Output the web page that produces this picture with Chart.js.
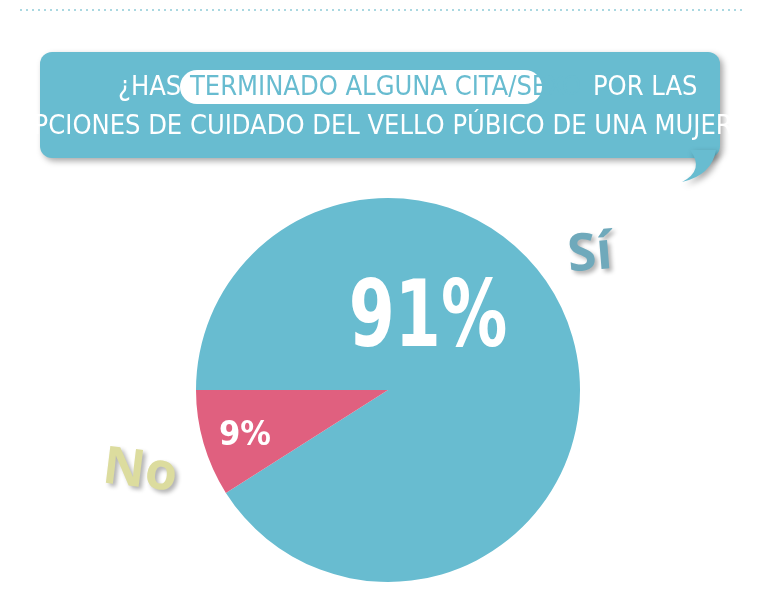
<!DOCTYPE html>
<html>
<head>
<meta charset="utf-8">
<script src="https://cdn.jsdelivr.net/npm/chart.js@4"></script>
<style>
  html, body { margin: 0; padding: 0; background: #fff; }
  #wrap { width: 757px; height: 595px; position: relative; }
</style>
</head>
<body>
<div id="wrap"><canvas id="c" width="757" height="595"></canvas></div>
<script>
const labels = ["Sí", "No"];
const values = [91, 9];
const colors = ["#68bcd0", "#e0607f"];
const titleLines = ["¿HAS TERMINADO ALGUNA CITA/SEXO POR LAS", "OPCIONES DE CUIDADO DEL VELLO PÚBICO DE UNA MUJER?"];

const decor = {
    id: "decor",
    beforeDraw(chart) {
        const ctx = chart.ctx;
        ctx.save();
        // dotted line
        ctx.strokeStyle = "#8fcbd8";
        ctx.lineWidth = 1.5;
        ctx.setLineDash([2, 4]);
        ctx.beginPath();
        ctx.moveTo(20, 10);
        ctx.lineTo(745, 10);
        ctx.stroke();
        ctx.setLineDash([]);
        // speech box
        ctx.shadowColor = "rgba(0,0,0,0.35)";
        ctx.shadowBlur = 6;
        ctx.shadowOffsetX = 3;
        ctx.shadowOffsetY = 3;
        ctx.fillStyle = "#68bcd0";
        ctx.beginPath();
        ctx.roundRect(40, 52, 680, 106, 12);
        ctx.fill();
        ctx.beginPath();
        ctx.moveTo(690, 150);
        ctx.quadraticCurveTo(705, 170, 682, 182);
        ctx.quadraticCurveTo(712, 175, 716, 150);
        ctx.fill();
        ctx.shadowColor = "transparent";
        // highlight oval
        ctx.fillStyle = "#fff";
        ctx.beginPath();
        ctx.roundRect(180, 70, 362, 34, 17);
        ctx.fill();
        ctx.font = "27px 'DejaVu Sans Condensed', 'DejaVu Sans'";
        ctx.textBaseline = "middle";
        ctx.textAlign = "left";
        const pre = "¿HAS ", mid = "TERMINADO ALGUNA CITA/SEXO", post = " POR LAS";
        ctx.fillStyle = "#fff";
        ctx.fillText(pre, 118, 88);
        ctx.fillStyle = "#68bcd0";
        ctx.fillText(mid, 190, 88);
        ctx.fillStyle = "#fff";
        ctx.fillText(post, 190 + ctx.measureText(mid).width + 4, 88);
        ctx.textAlign = "center";
        ctx.fillText(titleLines[1], 380, 127);
        ctx.restore();
    },
    afterDraw(chart) {
        const ctx = chart.ctx;
        const arc = chart.getDatasetMeta(0).data[0];
        const cx = arc.x, cy = arc.y;
        ctx.save();
        ctx.textAlign = "center";
        ctx.textBaseline = "middle";
        ctx.fillStyle = "#fff";
        ctx.font = "bold 92px 'DejaVu Sans Condensed', 'DejaVu Sans'";
        ctx.save();
        ctx.translate(cx + 40, cy - 68);
        ctx.scale(0.8, 1);
        ctx.fillText(values[0] + "%", 0, 0);
        ctx.restore();
        ctx.font = "bold 34px 'DejaVu Sans Condensed', 'DejaVu Sans'";
        ctx.fillText(values[1] + "%", cx - 143, cy + 46);
        // Sí / No
        ctx.shadowColor = "rgba(0,0,0,0.3)";
        ctx.shadowBlur = 4;
        ctx.shadowOffsetX = 3;
        ctx.shadowOffsetY = 3;
        ctx.font = "bold 52px 'Open Sans', sans-serif";
        ctx.fillStyle = "#6fa9bb";
        ctx.save();
        ctx.translate(590, 255);
        ctx.rotate(-0.08);
        ctx.fillText(labels[0], 0, 0);
        ctx.restore();
        ctx.fillStyle = "#dcdc9e";
        ctx.save();
        ctx.translate(140, 472);
        ctx.rotate(0.12);
        ctx.fillText(labels[1], 0, 0);
        ctx.restore();
        ctx.restore();
    }
};

new Chart(document.getElementById("c"), {
    type: "pie",
    data: {
        labels: labels,
        datasets: [{
            data: values,
            backgroundColor: colors,
            borderWidth: 0
        }]
    },
    options: {
        responsive: false,
        animation: false,
        rotation: -90,
        layout: { padding: { left: 196, right: 177, top: 198, bottom: 13 } },
        plugins: { legend: { display: false }, tooltip: { enabled: false } }
    },
    plugins: [decor]
});
</script>
</body>
</html>
